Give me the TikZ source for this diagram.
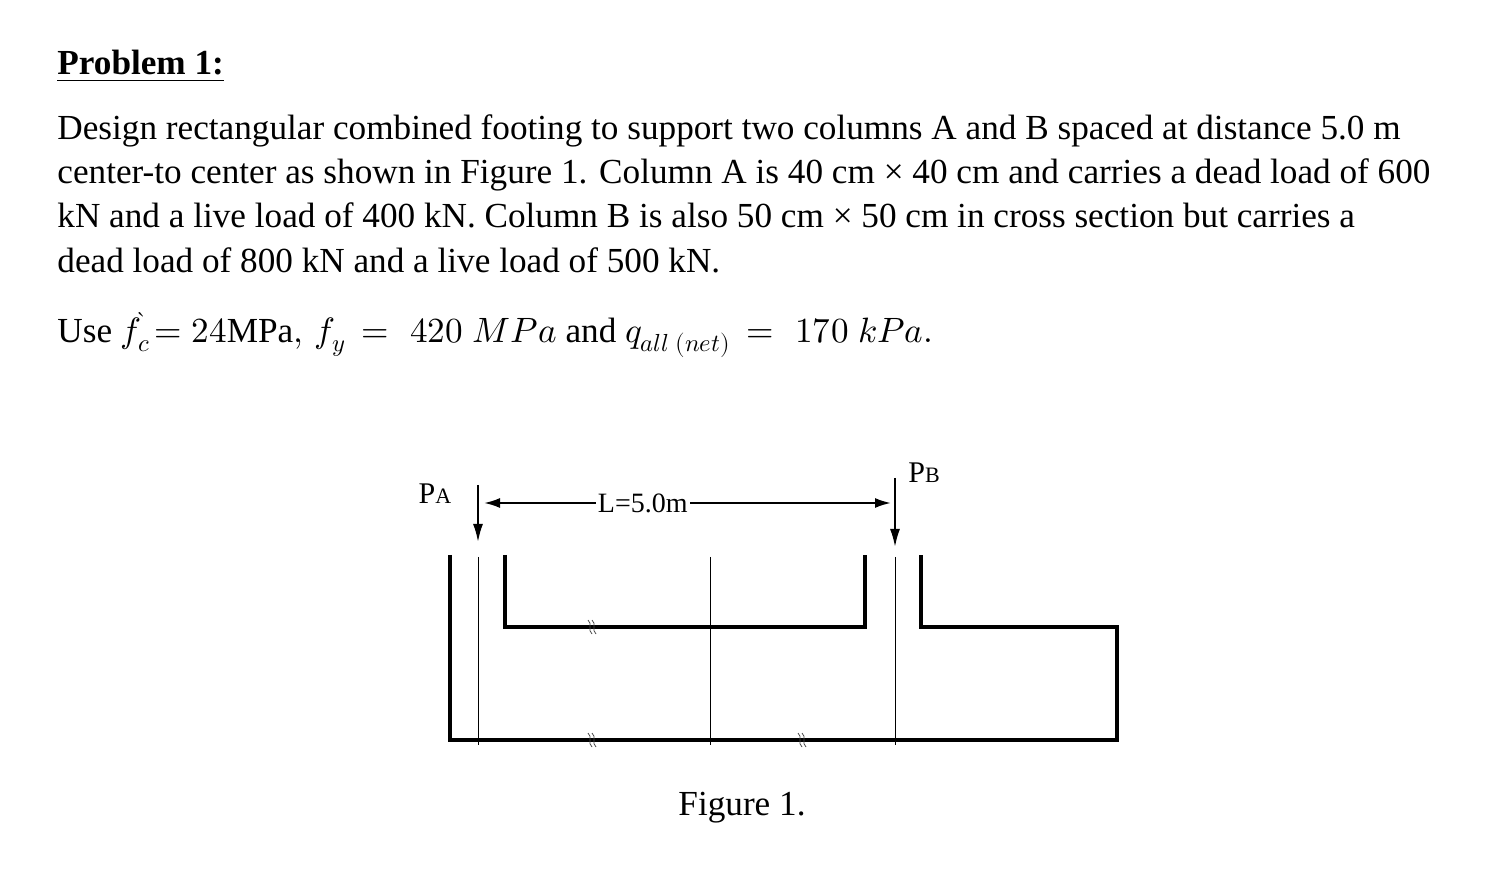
\documentclass[tikz,border=0pt]{standalone}
\usepackage{fontspec}
\setmainfont{Liberation Serif}
\usepackage{unicode-math}
\setmathfont{Latin Modern Math}
\usetikzlibrary{arrows.meta}
\begin{document}
\begin{tikzpicture}[x=0.5pt,y=-0.5pt,
  txt/.style={anchor=base west,inner sep=0,font=\fontsize{17.6}{20}\selectfont},
  thick line/.style={line width=1.6pt},
  thin line/.style={line width=0.4pt},
  load/.style={line width=1pt,-{Latex[length=9pt,width=5pt]}},
  dim/.style={line width=1pt,{Latex[length=8pt,width=5pt]}-{Latex[length=8pt,width=5pt]}},
  brk/.style={line width=0.4pt,black!70}]
\useasboundingbox (0,0) rectangle (1492,886);
\node[txt,font=\bfseries\fontsize{17.6}{20}\selectfont] (h) at (57,75) {\underline{Problem 1:}};
\node[txt] (l1) at (57,140) {Design rectangular combined footing to support two columns A and B spaced at distance 5.0 m};
\node[txt] (l2) at (57,184) {center-to center as shown in Figure 1. Column A is 40 cm × 40 cm and carries a dead load of 600};
\node[txt] (l3) at (57,228) {kN and a live load of 400 kN. Column B is also 50 cm × 50 cm in cross section but carries a};
\node[txt] (l4) at (57,273) {dead load of 800 kN and a live load of 500 kN.};
\node[txt] (l5) at (57,343) {Use $f_c^{\grave{}}\!=24\text{MPa},\,f_y\,=\,\,420\;MPa$ and $q_{all\;(net)}\,=\,\,170\;kPa.$};
% figure
\node[inner sep=0,font=\fontsize{15}{17}\selectfont] (pa) at (435,494) {P{\fontsize{11}{13}\selectfont A}};
\node[inner sep=0,font=\fontsize{15}{17}\selectfont] (pb) at (924,473) {P{\fontsize{11}{13}\selectfont B}};
\coordinate (a1) at (478,485); \coordinate (a2) at (478,542);
\coordinate (b1) at (895,478); \coordinate (b2) at (895,547);
\draw[load] (a1) -- (a2);
\draw[load] (b1) -- (b2);
\coordinate (d1) at (484,503); \coordinate (d2) at (891,503);
\draw[dim] (d1) -- (d2) node[pos=0.39,fill=white,inner sep=1pt,font=\fontsize{14}{16}\selectfont] (lab) {L=5.0m};
\draw[thick line] (450,555) -- (450,740) -- (1117,740) -- (1117,627) -- (921,627) -- (921,555);
\draw[thick line] (505,555) -- (505,627) -- (865,627) -- (865,555);
\draw[thin line] (478,557) -- (478,745);
\draw[thin line] (710,557) -- (710,745);
\draw[thin line] (895,557) -- (895,745);
\foreach \x/\y in {590/627,590/740,800/740}{
  \draw[brk] (\x-2,\y-7) .. controls (\x+3,\y-3) and (\x-3,\y+3) .. (\x+2,\y+7);
  \draw[brk] (\x+2,\y-7) .. controls (\x+7,\y-3) and (\x+1,\y+3) .. (\x+6,\y+7);
}
\node[inner sep=0,font=\fontsize{17.6}{20}\selectfont] (fig) at (742,808) {Figure 1.};
\end{tikzpicture}
\end{document}
